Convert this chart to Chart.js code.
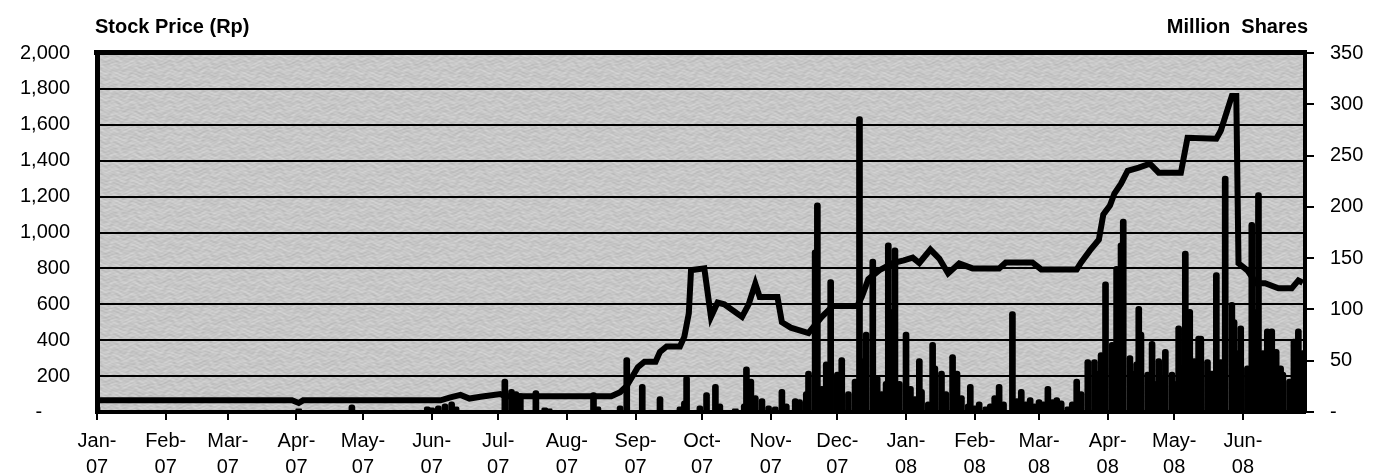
<!DOCTYPE html>
<html>
<head>
<meta charset="utf-8">
<script src="https://cdn.jsdelivr.net/npm/chart.js@4.4.1/dist/chart.umd.min.js"></script>
<style>
  body { margin: 0; background: #fff; }
  #wrap { width: 1374px; height: 474px; position: relative; }
</style>
</head>
<body>
<div id="wrap"><canvas id="myChart"></canvas></div>
<script>
// x positions are days since 1 Jan 2007
var monthDays = [0, 31, 59, 90, 120, 151, 181, 212, 243, 273, 304, 334, 365, 396, 425, 456, 486, 517];
var monthLabels = [
    ['Jan-', '07'], ['Feb-', '07'], ['Mar-', '07'], ['Apr-', '07'], ['May-', '07'], ['Jun-', '07'],
    ['Jul-', '07'], ['Aug-', '07'], ['Sep-', '07'], ['Oct-', '07'], ['Nov-', '07'], ['Dec-', '07'],
    ['Jan-', '08'], ['Feb-', '08'], ['Mar-', '08'], ['Apr-', '08'], ['May-', '08'], ['Jun-', '08']
];

// stock price (Rp), left axis
var priceDays = [0, 88, 91, 93, 155, 159, 164, 168, 173, 182, 184, 232, 236, 239, 244, 247, 252, 254, 257, 263,
    265, 267, 268, 274, 277, 280, 283, 291, 294, 297, 299, 307, 309, 313, 321, 327, 332, 343, 345, 348,
    353, 359, 364, 368, 371, 376, 380, 384, 389, 395, 407, 410, 422, 426, 442, 444, 448, 452, 454, 457,
    459, 462, 465, 470, 475, 479, 489, 492, 505, 507, 512, 514, 515, 519, 523, 527, 533, 539, 542, 544];
var price = [65, 65, 50, 65, 65, 80, 95, 75, 85, 100, 88, 88, 110, 145, 250, 280, 280, 335, 365, 365,
    420, 550, 790, 800, 530, 610, 600, 530, 600, 715, 640, 640, 500, 470, 440, 530, 590, 590, 640, 740,
    790, 830, 845, 860, 830, 905, 855, 772, 828, 800, 800, 833, 833, 794, 794, 833, 900, 960, 1100, 1150,
    1217, 1272, 1344, 1361, 1383, 1333, 1333, 1528, 1522, 1567, 1761, 1761, 828, 789, 717, 717, 689, 689, 733, 720];

// traded volume (million shares), right axis
var volDays = [0, 91, 115, 149, 151, 154, 157, 160, 162,
    184, 187, 189, 191, 198, 202, 204, 224, 226, 236, 239, 246, 254, 263, 265, 266, 272, 275, 279, 281,
    288, 292, 293, 295, 297, 300, 303, 306, 309, 311, 315, 317, 320, 321, 324, 325, 327, 329, 331, 334,
    336, 339, 342, 344, 346, 347, 350, 352, 354, 356, 357, 359, 360, 362, 365, 367, 369, 371, 372, 375,
    377, 378, 381, 383, 386, 388, 390, 393, 394, 396, 398, 401, 403, 405, 407, 409, 413, 415, 417, 419,
    421, 423, 425, 427, 429, 431, 433, 435, 438, 440, 442, 444, 447, 450, 452, 453, 455, 458, 460, 462,
    463, 466, 467, 469, 470, 471, 474, 476, 478, 479, 481, 482, 485, 486, 488, 489, 491, 493, 495, 497,
    498, 501, 503, 505, 507, 509, 512, 513, 515, 516, 519, 521, 522, 524, 526, 528, 530, 532, 534, 535,
    538, 540, 542, 544];
var volume = [6, 3, 7, 5, 4, 6, 8, 10, 5,
    32, 22, 20, 18, 21, 4, 3, 19, 5, 6, 53, 27, 15, 5, 11, 35, 6, 19, 27, 8,
    3, 8, 44, 32, 16, 13, 6, 5, 22, 8, 13, 12, 20, 40, 158, 204, 25, 49, 129, 39,
    53, 20, 32, 288, 52, 78, 149, 35, 20, 30, 165, 100, 160, 30, 78, 25, 15, 52, 22, 10,
    68, 45, 40, 20, 56, 40, 16, 8, 27, 6, 10, 5, 8, 16, 27, 10, 98, 13, 22, 10,
    14, 8, 12, 10, 25, 12, 14, 11, 5, 10, 32, 20, 51, 51, 40, 58, 127, 68, 142, 165,
    188, 55, 40, 49, 103, 78, 39, 69, 30, 52, 35, 61, 39, 30, 84, 45, 157, 100, 52, 74,
    74, 51, 40, 136, 51, 230, 107, 90, 60, 84, 45, 185, 100, 214, 60, 81, 81, 61, 45, 39,
    32, 71, 81, 60];

var fontName = "'Liberation Sans', Arial, sans-serif";

// grey paper texture behind the plot (tile repeats seamlessly)
function makeTexture() {
    var w = 128, h = 64;
    var c = document.createElement('canvas');
    c.width = w; c.height = h;
    var g = c.getContext('2d');
    var img = g.createImageData(w, h);
    var kx = 2 * Math.PI / w, ky = 2 * Math.PI / h;
    for (var y = 0; y < h; y++) {
        for (var x = 0; x < w; x++) {
            var a = Math.sin(x * kx * 5 + 2.5 * Math.sin(y * ky * 3)) * Math.sin(y * ky * 11 + 2 * Math.sin(x * kx * 7));
            var b = Math.sin(x * kx * 17 + 1.5 * Math.sin(y * ky * 5)) * Math.sin(y * ky * 19 + 2 * Math.sin(x * kx * 3));
            var v = 199 + 9 * a + 6 * b;
            var i = (y * w + x) * 4;
            img.data[i] = img.data[i + 1] = img.data[i + 2] = v;
            img.data[i + 3] = 255;
        }
    }
    g.putImageData(img, 0, 0);
    return c;
}
var texture = makeTexture();

var plotDeco = {
    id: 'plotDeco',
    beforeDraw: function(chart) {
        var a = chart.chartArea, ctx = chart.ctx;
        ctx.save();
        ctx.fillStyle = ctx.createPattern(texture, 'repeat');
        ctx.fillRect(a.left, a.top, a.right - a.left, a.bottom - a.top);
        ctx.restore();
    },
    afterDraw: function(chart) {
        var a = chart.chartArea, ctx = chart.ctx;
        ctx.save();
        ctx.fillStyle = '#000';
        ctx.fillRect(a.left - 3, a.top - 3, a.right - a.left + 5, 5);
        ctx.font = 'bold 20px ' + fontName;
        ctx.textBaseline = 'middle';
        ctx.textAlign = 'left';
        ctx.fillText('Stock Price (Rp)', 95, 27);
        ctx.textAlign = 'right';
        ctx.fillText('Million  Shares', 1308, 27);
        ctx.restore();
    }
};

var priceData = priceDays.map(function(d, i) { return {x: d, y: price[i]}; });
var volData = volDays.map(function(d, i) { return {x: d, y: volume[i]}; });

var tickFont = {family: fontName, size: 20};

var ctx = document.getElementById('myChart').getContext('2d');
var myChart = new Chart(ctx, {
    type: 'line',
    data: {
        datasets: [{
            type: 'line',
            label: 'Stock Price (Rp)',
            data: priceData,
            yAxisID: 'y',
            borderColor: '#000',
            borderWidth: 6,
            pointRadius: 0,
            tension: 0,
            fill: false
        }, {
            type: 'bar',
            label: 'Million Shares',
            data: volData,
            yAxisID: 'y1',
            backgroundColor: '#000',
            barThickness: 6,
            borderRadius: 3
        }]
    },
    options: {
        responsive: true,
        maintainAspectRatio: false,
        animation: false,
        layout: { padding: { top: 53, left: 0, right: 0, bottom: 0 } },
        plugins: { legend: { display: false }, tooltip: { enabled: false } },
        scales: {
            x: {
                type: 'linear',
                min: 0,
                max: 545,
                offset: false,
                afterBuildTicks: function(s) {
                    s.ticks = monthDays.map(function(d) { return {value: d}; });
                },
                ticks: {
                    autoSkip: false,
                    maxRotation: 0,
                    padding: 8,
                    color: '#000',
                    font: {family: fontName, size: 20, lineHeight: 1.3},
                    callback: function(v, i) { return monthLabels[i]; }
                },
                grid: { drawOnChartArea: false, drawTicks: true, tickLength: 8, color: '#000', lineWidth: 2, offset: false },
                border: { color: '#000', width: 4 },
                afterFit: function(s) { s.height = 62; }
            },
            y: {
                position: 'left',
                min: 0,
                max: 2000,
                ticks: {
                    stepSize: 200,
                    padding: 27,
                    color: '#000',
                    font: tickFont,
                    callback: function(v) { return v === 0 ? '-     ' : v.toLocaleString('en-US'); }
                },
                grid: { color: '#000', lineWidth: 2, drawTicks: false },
                border: { color: '#000', width: 5 },
                afterFit: function(s) { s.width = 97; }
            },
            y1: {
                position: 'right',
                min: 0,
                max: 350,
                ticks: {
                    stepSize: 50,
                    padding: 16,
                    color: '#000',
                    font: tickFont,
                    callback: function(v) { return v === 0 ? '-' : v; }
                },
                grid: { drawOnChartArea: false, drawTicks: true, tickLength: 9, color: '#000', lineWidth: 2 },
                border: { color: '#000', width: 4 },
                afterFit: function(s) { s.width = 69; }
            }
        }
    },
    plugins: [plotDeco]
});
</script>
</body>
</html>
